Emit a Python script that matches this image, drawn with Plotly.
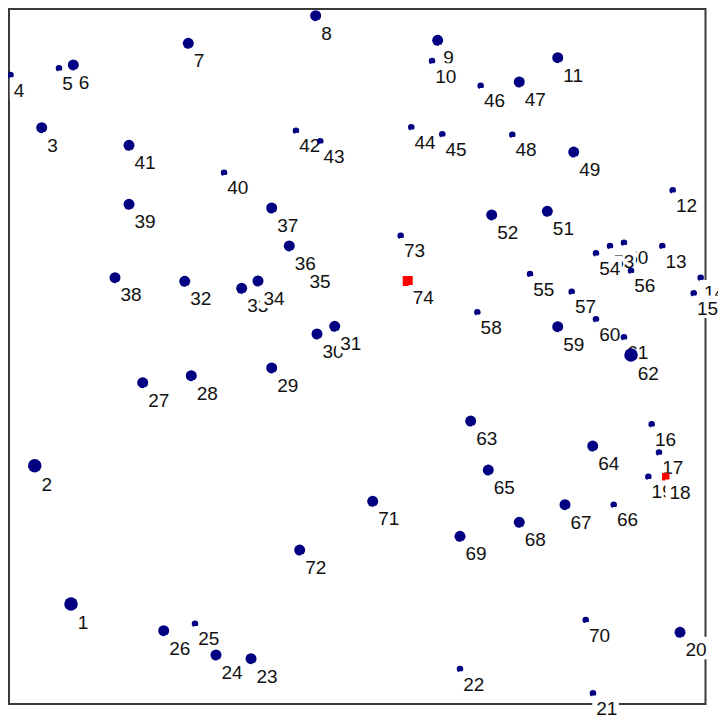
import plotly.graph_objects as go

# ---- data (frame spans 0..100 on both axes) ----
ids = ["1", "2", "3", "4", "5", "6", "7", "8", "9", "10",
       "11", "12", "13", "14", "15", "16", "17", "18", "19", "20",
       "21", "22", "23", "24", "25", "26", "27", "28", "29", "30",
       "31", "32", "33", "34", "35", "36", "37", "38", "39", "40",
       "41", "42", "43", "44", "45", "46", "47", "48", "49", "50",
       "51", "52", "53", "54", "55", "56", "57", "58", "59", "60",
       "61", "62", "63", "64", "65", "66", "67", "68", "69", "70",
       "71", "72", "73", "74"]

x = [9.10, 3.90, 4.90, 0.43, 7.38, 9.43, 25.90, 44.15, 61.63, 60.82,
     78.83, 95.30, 93.81, 99.31, 98.31, 92.29, 93.34, 94.30, 91.81, 96.35,
     83.88, 64.83, 34.89, 29.87, 26.86, 22.38, 19.37, 26.33, 37.85, 44.34,
     46.88, 25.39, 33.55, 35.89, 42.48, 40.37, 37.85, 15.40, 17.41, 31.02,
     17.41, 41.33, 44.81, 57.85, 62.29, 67.79, 73.32, 72.32, 81.12, 88.32,
     77.34, 69.37, 86.32, 84.31, 74.86, 89.33, 80.83, 67.31, 78.83, 84.31,
     88.32, 89.33, 66.36, 83.84, 68.88, 86.85, 79.87, 73.32, 64.83, 82.84,
     52.32, 41.86, 56.33, 57.34]

y = [14.33, 34.14, 82.56, 90.11, 91.07, 91.55, 94.66, 98.61, 95.09, 92.12,
     92.59, 73.60, 65.62, 61.08, 58.84, 40.07, 36.03, 32.56, 32.56, 10.27,
     1.53, 5.01, 6.49, 7.02, 11.50, 10.50, 46.03, 47.03, 48.14, 53.01,
     54.11, 60.56, 59.56, 60.60, 63.04, 65.62, 71.06, 61.08, 71.59, 76.12,
     80.04, 82.14, 80.62, 82.62, 81.62, 88.58, 89.11, 81.56, 79.08, 66.09,
     70.59, 70.06, 65.62, 64.57, 61.60, 62.08, 59.07, 56.12, 54.05, 55.11,
     52.54, 50.00, 40.54, 36.96, 33.52, 28.55, 28.55, 26.03, 24.03, 12.03,
     29.04, 22.06, 67.09, 60.60]

# weight class: 1 small, 2 medium, 3 large
weight = [3, 3, 2, 1, 1, 2, 2, 2, 2, 1,
          2, 1, 1, 1, 1, 1, 1, 1, 1, 2,
          1, 1, 2, 2, 1, 2, 2, 2, 2, 2,
          2, 2, 2, 2, 2, 2, 2, 2, 2, 1,
          2, 1, 1, 1, 1, 1, 2, 1, 2, 1,
          2, 2, 1, 1, 1, 1, 1, 1, 2, 1,
          1, 3, 2, 2, 2, 1, 2, 2, 2, 1,
          2, 2, 1, 2]

# group: A = regular (navy circles), B = highlighted (red squares)
group = ["A"] * 74
group[17] = "B"
group[73] = "B"

# ---- layout / styling ----
# the page body adds an 8px margin, so the figure is 8px smaller than the window
W, H = 718, 711
FL, FR, FT, FB = -0.5, 697.5, -2.0, 696.0     # frame (data 0..100) in figure pixels
PX = (FR - FL) / 100.0                         # pixels per data unit
x_range = [(0 - FL) / PX, (W - FL) / PX]
y_range = [(FB - H) / PX, (FB - 0) / PX]

SIZE = {"A": {1: 6.5, 2: 11.0, 3: 13.5}, "B": {1: 7.5, 2: 10.0, 3: 12.0}}
COLOR = {"A": "#000080", "B": "#ff0000"}
SYMBOL = {"A": "circle", "B": "square"}
FONT = "Liberation Sans Narrow, Arial Narrow, Liberation Sans, Arial, sans-serif"
FS = 19
CAPA = 0.716 * FS        # actual cap height of the font
DIGIT = 0.556 * FS       # digit advance

fig = go.Figure()

order = [i for i in range(len(ids)) if group[i] == "A"] + \
        [i for i in range(len(ids)) if group[i] == "B"]

for i in order:
    g = group[i]
    s = SIZE[g][weight[i]]
    r = s / 2.0
    gl = r + 1.0      # glyph left offset (px, right)
    gt = r + 4.0      # glyph top offset (px, down) for a 15px tall glyph box
    fig.add_trace(go.Scatter(
        x=[x[i]], y=[y[i]], mode="markers",
        marker=dict(size=s, color=COLOR[g], symbol=SYMBOL[g], line=dict(width=0)),
        hoverinfo="skip", showlegend=False))
    n = len(ids[i])
    bx0 = x[i] + (gl - 5.0) / PX
    bx1 = x[i] + (gl + n * DIGIT + 0.5) / PX
    by0 = y[i] - (gt - 5.0) / PX
    by1 = y[i] - (gt + 17.5) / PX
    fig.add_trace(go.Scatter(
        x=[bx0, bx1, bx1, bx0, bx0], y=[by0, by0, by1, by1, by0],
        mode="lines", line=dict(width=0, color="white"),
        fill="toself", fillcolor="white",
        hoverinfo="skip", showlegend=False))
    top = gt + (15.0 - CAPA) / 2.0
    tx = x[i] + (gl - 1.0) / PX
    ty = y[i] - (top + CAPA - 0.75 * FS) / PX
    fig.add_trace(go.Scatter(
        x=[tx], y=[ty], mode="text", text=[ids[i]],
        textposition="bottom right",
        textfont=dict(family=FONT, size=FS, color="#111111"),
        hoverinfo="skip", showlegend=False, cliponaxis=False))

# axes frame
fig.add_shape(type="rect", xref="x", yref="y",
              x0=(1.0 - FL) / PX, y0=(FB - FB) / PX,
              x1=(FR - FL) / PX, y1=(FB - 1.0) / PX,
              line=dict(color="#3a3a3a", width=2), fillcolor="rgba(0,0,0,0)",
              layer="below")

fig.update_layout(
    width=W, height=H,
    margin=dict(l=0, r=0, t=0, b=0, pad=0),
    paper_bgcolor="white", plot_bgcolor="white",
    showlegend=False,
    xaxis=dict(range=x_range, visible=False, fixedrange=True),
    yaxis=dict(range=y_range, visible=False, fixedrange=True),
)

fig.write_html("out.html")
